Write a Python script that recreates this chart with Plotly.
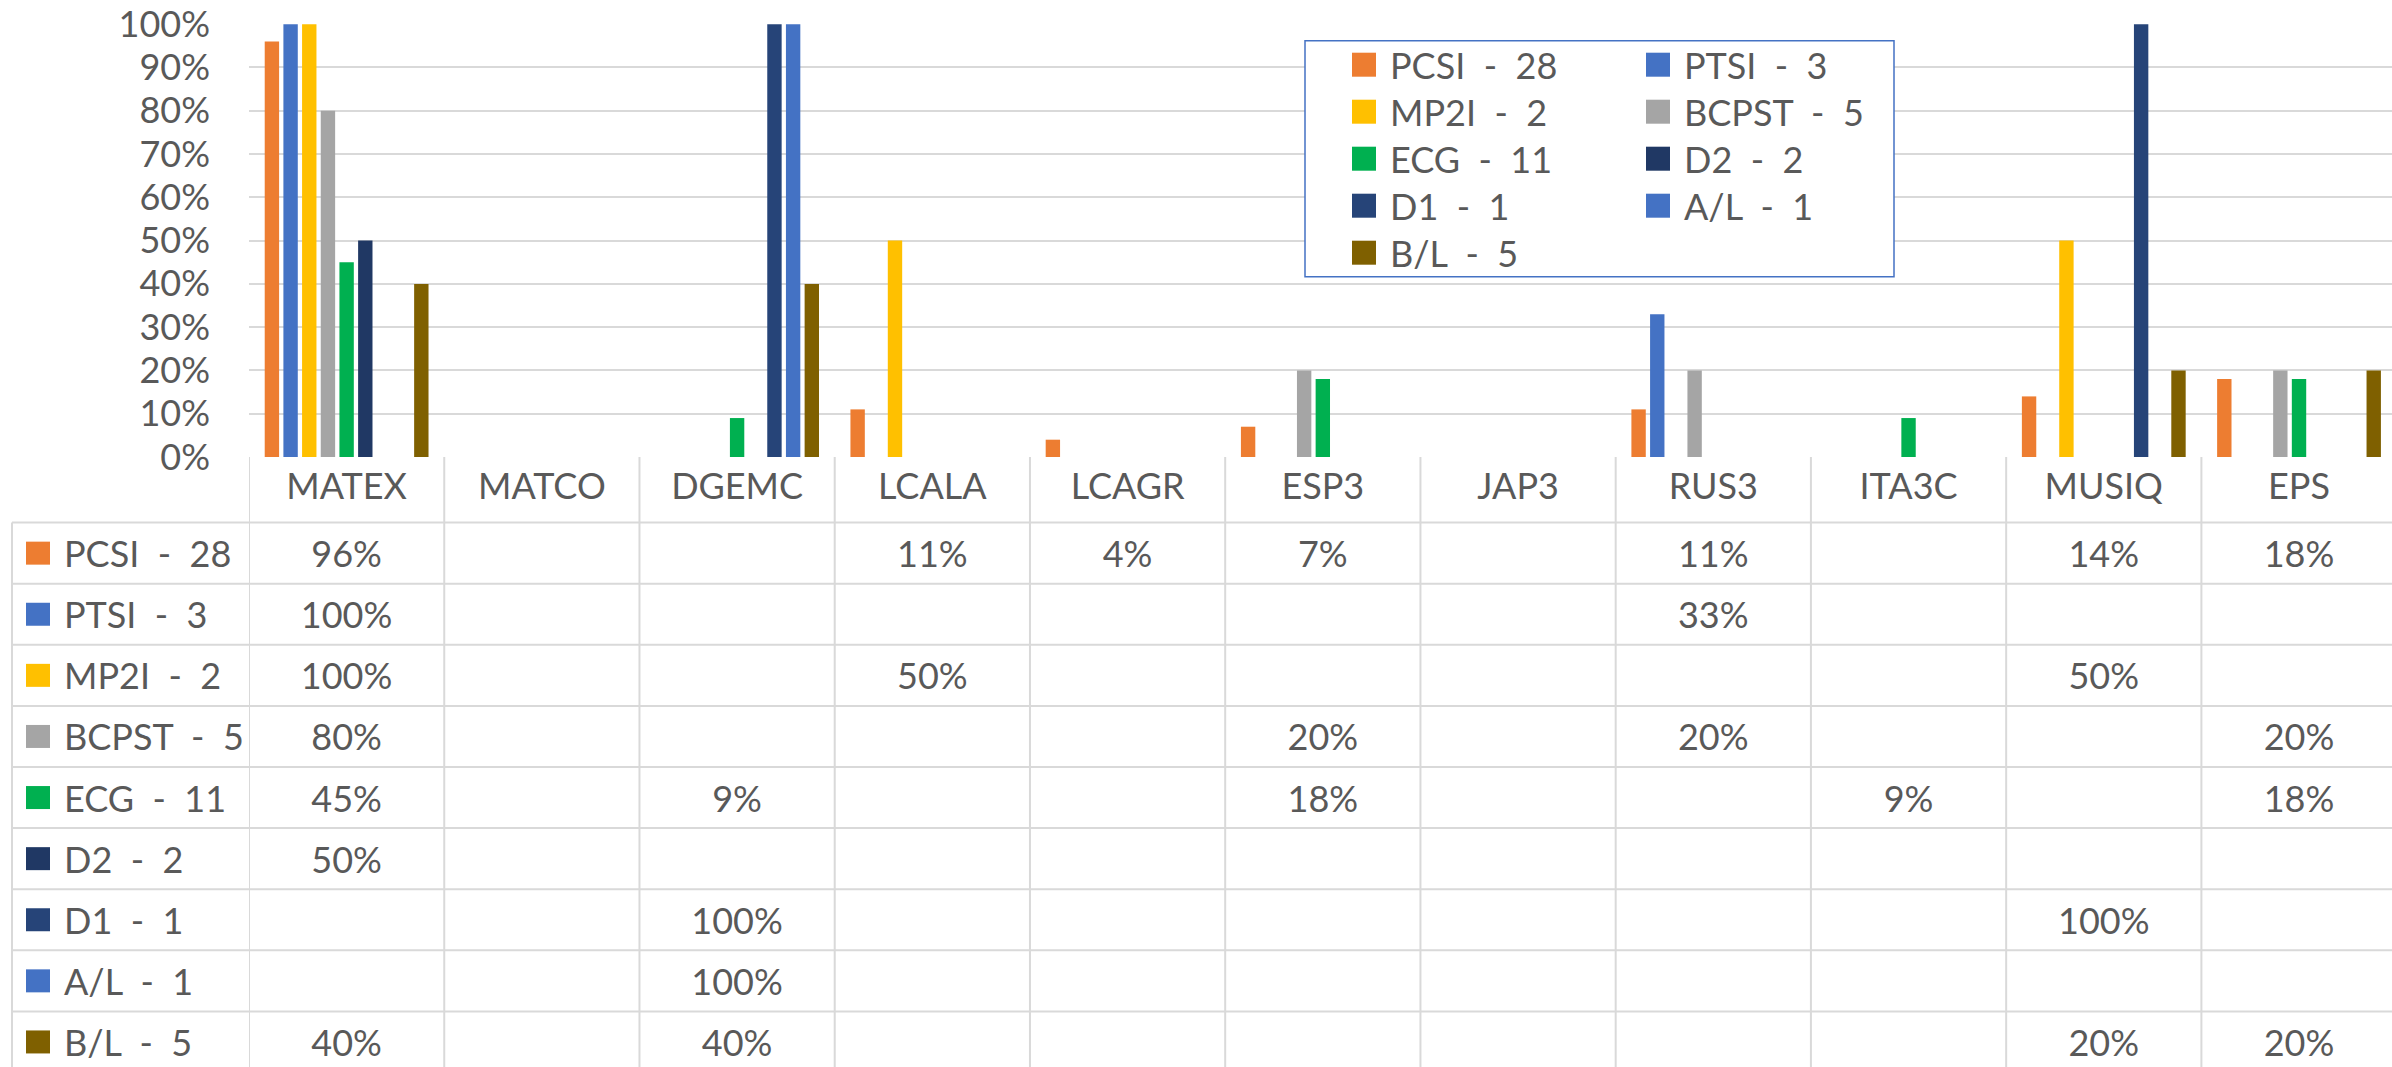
import plotly.graph_objects as go

# ---- data -------------------------------------------------------------
categories = ["MATEX", "MATCO", "DGEMC", "LCALA", "LCAGR", "ESP3",
              "JAP3", "RUS3", "ITA3C", "MUSIQ", "EPS"]

series_names = ["PCSI  -  28", "PTSI  -  3", "MP2I  -  2", "BCPST  -  5",
                "ECG  -  11", "D2  -  2", "D1  -  1", "A/L  -  1", "B/L  -  5"]

pcsi = [0.96, None, None, 0.11, 0.04, 0.07, None, 0.11, None, 0.14, 0.18]
ptsi = [1.00, None, None, None, None, None, None, 0.33, None, None, None]
mp2i = [1.00, None, None, 0.50, None, None, None, None, None, 0.50, None]
bcpst = [0.80, None, None, None, None, 0.20, None, 0.20, None, None, 0.20]
ecg = [0.45, None, 0.09, None, None, 0.18, None, None, 0.09, None, 0.18]
d2 = [0.50, None, None, None, None, None, None, None, None, None, None]
d1 = [None, None, 1.00, None, None, None, None, None, None, 1.00, None]
al = [None, None, 1.00, None, None, None, None, None, None, None, None]
bl = [0.40, None, 0.40, None, None, None, None, None, None, 0.20, 0.20]

series_values = [pcsi, ptsi, mp2i, bcpst, ecg, d2, d1, al, bl]

# ---- styling ----------------------------------------------------------
series_colors = ["#ED7D31", "#4472C4", "#FFC000", "#A5A5A5", "#00B050",
                 "#203864", "#264478", "#4472C4", "#7F6000"]
TEXT_COLOR = "#595959"
LINE_COLOR = "#D9D9D9"
FONT = "Lato"
FS = 36

W, H = 2392, 1067
M_L, M_T = 249, 24
PLOT_W = W - M_L
PLOT_H = H - M_T
AXIS_Y = 457          # pixel row of the 0% baseline
ROW_TOP = 522.6       # top of the first table row
ROW_H = 61.1          # table row height
COL_W = 195.24        # width of one category column
TABLE_LEFT = 12
TEXT_DY = 5 / ROW_H   # nudge so cell text sits on the same line as row headers


def px_x(px):
    return (px - M_L) / PLOT_W


def px_y(py):
    return (H - py) / PLOT_H


split = px_y(AXIS_Y)
y2_top = (AXIS_Y - ROW_TOP) / ROW_H
y2_bottom = (H - ROW_TOP) / ROW_H
x_max = -0.5 + PLOT_W / COL_W

fig = go.Figure()

# clustered bars
for name, vals, color in zip(series_names, series_values, series_colors):
    fig.add_trace(go.Bar(
        x=categories, y=vals, name=name, marker_color=color,
        marker_line_width=0, showlegend=False,
        xaxis="x", yaxis="y",
        hovertemplate="%{x}<br>" + name + ": %{y:.0%}<extra></extra>",
    ))

# data table values
tx, ty, tt = [], [], []
for i, vals in enumerate(series_values):
    for cat, v in zip(categories, vals):
        if v is not None:
            tx.append(cat)
            ty.append(i + 0.5 + TEXT_DY)
            tt.append(f"{round(v * 100)}%")
fig.add_trace(go.Scatter(
    x=tx, y=ty, text=tt, mode="text", textposition="middle center",
    textfont=dict(family=FONT, size=FS, color=TEXT_COLOR),
    xaxis="x2", yaxis="y2", showlegend=False, cliponaxis=False,
    hoverinfo="skip",
))

shapes = []
annotations = []
line = dict(color=LINE_COLOR, width=2)

# table horizontal rules
for k in range(len(series_names) + 1):
    shapes.append(dict(type="line", xref="paper", yref="y2",
                       x0=px_x(TABLE_LEFT), x1=1, y0=k, y1=k, line=line))
# table vertical rules at category boundaries
for j in range(len(categories) + 1):
    shapes.append(dict(type="line", xref="x2", yref="y2",
                       x0=j - 0.5, x1=j - 0.5, y0=y2_top, y1=y2_bottom,
                       line=line))
shapes.append(dict(type="line", xref="paper", yref="y2",
                   x0=px_x(TABLE_LEFT), x1=px_x(TABLE_LEFT),
                   y0=0, y1=y2_bottom, line=line))

# row headers with colour keys
sq_half = 11.5 / ROW_H
for i, (name, color) in enumerate(zip(series_names, series_colors)):
    shapes.append(dict(type="rect", xref="paper", yref="y2",
                       x0=px_x(26), x1=px_x(50),
                       y0=i + 0.5 - sq_half, y1=i + 0.5 + sq_half,
                       fillcolor=color, line=dict(width=0)))
    annotations.append(dict(xref="paper", yref="y2", x=px_x(62), y=i + 0.5,
                            text=name, showarrow=False, xanchor="left",
                            yanchor="middle",
                            font=dict(family=FONT, size=FS, color=TEXT_COLOR)))

# legend box (two columns)
shapes.append(dict(type="rect", xref="paper", yref="paper",
                   x0=px_x(1305), x1=px_x(1894), y0=px_y(276.7), y1=px_y(40.7),
                   fillcolor="white", line=dict(color="#4472C4", width=1.5),
                   layer="above"))
col_sq = [1352, 1646]
col_tx = [1388, 1682]
for k, (name, color) in enumerate(zip(series_names, series_colors)):
    c, r = k % 2, k // 2
    cy = 64.7 + 47 * r
    shapes.append(dict(type="rect", xref="paper", yref="paper",
                       x0=px_x(col_sq[c]), x1=px_x(col_sq[c] + 24),
                       y0=px_y(cy + 12), y1=px_y(cy - 12),
                       fillcolor=color, line=dict(width=0), layer="above"))
    annotations.append(dict(xref="paper", yref="paper", x=px_x(col_tx[c]),
                            y=px_y(cy), text=name, showarrow=False,
                            xanchor="left", yanchor="middle",
                            font=dict(family=FONT, size=FS, color=TEXT_COLOR)))

fig.update_layout(
    width=W, height=H,
    margin=dict(l=M_L, r=0, t=M_T, b=0, pad=0, autoexpand=False),
    paper_bgcolor="white", plot_bgcolor="white",
    barmode="group", bargap=0.139, bargroupgap=0.23,
    font=dict(family=FONT, size=FS, color=TEXT_COLOR),
    showlegend=False,
    xaxis=dict(domain=[0, 1], anchor="y", type="category",
               categoryorder="array", categoryarray=categories,
               range=[-0.5, x_max], showgrid=False, zeroline=False,
               showline=False, ticks="", ticklabelstandoff=5,
               automargin=False,
               tickfont=dict(family=FONT, size=FS, color=TEXT_COLOR)),
    yaxis=dict(domain=[split, 1], anchor="x", range=[0, 1.0005],
               tickvals=[i / 10 for i in range(11)], tickformat=".0%",
               showgrid=True, gridcolor=LINE_COLOR, gridwidth=2,
               zeroline=False, showline=False, ticks="",
               ticklabelstandoff=38, automargin=False,
               tickfont=dict(family=FONT, size=FS, color=TEXT_COLOR)),
    xaxis2=dict(domain=[0, 1], anchor="y2", matches="x", type="category",
                categoryorder="array", categoryarray=categories,
                showticklabels=False, showgrid=False, zeroline=False,
                showline=False, ticks="", automargin=False),
    yaxis2=dict(domain=[0, split], anchor="x2",
                range=[y2_bottom, y2_top], showticklabels=False,
                showgrid=False, zeroline=False, showline=False, ticks="",
                automargin=False),
    shapes=shapes,
    annotations=annotations,
)

fig.write_html("out.html")
